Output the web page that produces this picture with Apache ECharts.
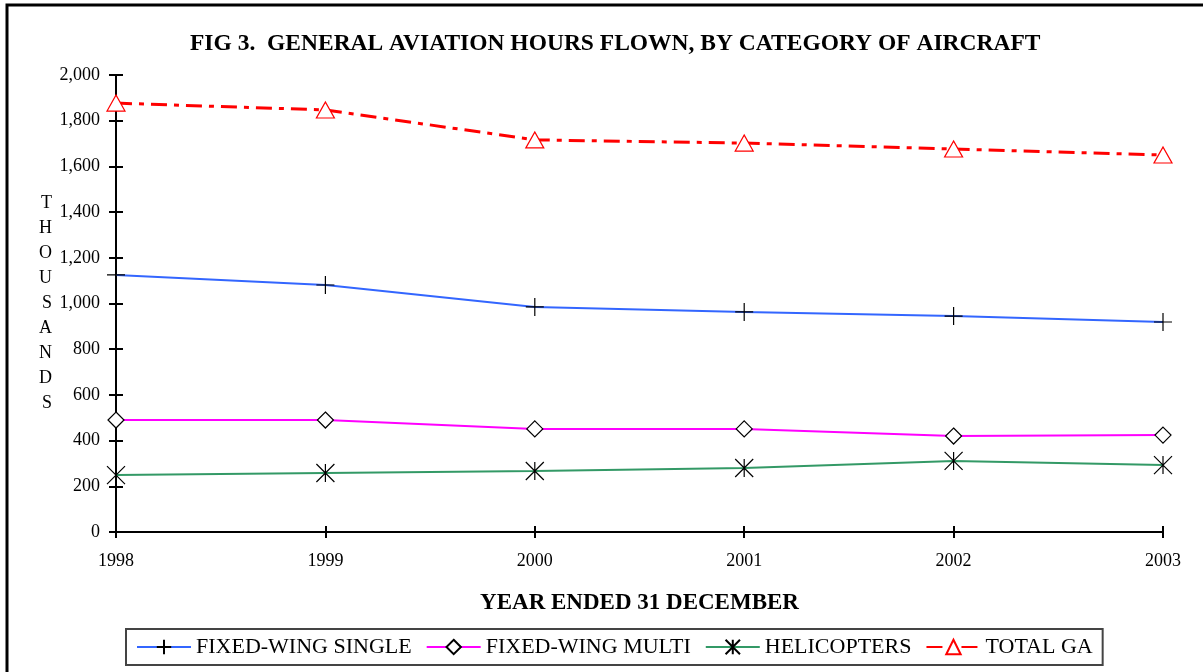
<!DOCTYPE html>
<html>
<head>
<meta charset="utf-8">
<script src="https://cdn.jsdelivr.net/npm/echarts@6/dist/echarts.min.js"></script>
<style>
  html, body { margin: 0; padding: 0; background: #fff; }
  #chart { width: 1203px; height: 672px; }
</style>
</head>
<body>
<div id="chart"></div>
<script>
// data (thousands of hours)
const years = ['1998', '1999', '2000', '2001', '2002', '2003']
const fixedWingSingle = [1125, 1081, 985, 963, 945, 919]
const fixedWingMulti = [490, 490, 451, 451, 420, 424]
const helicopters = [249, 258, 267, 280, 311, 293]
const totalGA = [1877, 1847, 1716, 1702, 1676, 1650]
const yTicks = { min: 0, max: 2000, interval: 200 }

const serif = '"Liberation Serif", "DejaVu Serif", serif'
const plusPath = 'path://M0,-10L0,10M-10,0L10,0'
const starPath = 'path://M-10,-10L10,10M-10,10L10,-10M0,-10L0,10'

const chart = echarts.init(document.getElementById('chart'))

chart.setOption({
  backgroundColor: '#fff',
  animation: false,
  title: {
    text: 'FIG 3.  GENERAL AVIATION HOURS FLOWN, BY CATEGORY OF AIRCRAFT',
    left: 185,
    top: 27,
    textStyle: {
      fontFamily: serif,
      fontWeight: 'bold',
      fontSize: 23.5,
      color: '#000'
    }
  },
  graphic: [{
    type: 'rect',
    shape: { x: 7, y: 5, width: 1210, height: 690 },
    style: { fill: 'none', stroke: '#000', lineWidth: 3 },
    silent: true
  }],
  grid: {
    left: 116,
    right: 40,
    top: 75,
    bottom: 140
  },
  legend: {
    bottom: 7,
    left: 126,
    padding: [7, 10, 7, 10],
    borderColor: '#444',
    borderWidth: 2,
    itemGap: 14,
    itemWidth: 54,
    itemHeight: 18,
    textStyle: {
      fontFamily: serif,
      fontSize: 22,
      color: '#000'
    },
    data: ['FIXED-WING SINGLE', 'FIXED-WING MULTI', 'HELICOPTERS', 'TOTAL GA']
  },
  xAxis: [{
    type: 'category',
    boundaryGap: false,
    data: years,
    name: 'YEAR ENDED 31 DECEMBER',
    nameLocation: 'middle',
    nameGap: 60,
    nameTextStyle: {
      fontFamily: serif,
      fontWeight: 'bold',
      fontSize: 23,
      color: '#000'
    },
    axisLine: { lineStyle: { color: '#000', width: 2 } },
    axisTick: { show: true, length: 6, lineStyle: { color: '#000', width: 2 } },
    axisLabel: {
      margin: 20,
      fontFamily: serif,
      fontSize: 18,
      color: '#000'
    },
    splitLine: { show: false }
  }, {
    // second axis only to get ticks crossing the line
    type: 'category',
    boundaryGap: false,
    data: years,
    position: 'bottom',
    axisLine: { show: false },
    axisTick: { show: true, inside: true, length: 6, lineStyle: { color: '#000', width: 2 } },
    axisLabel: { show: false },
    splitLine: { show: false }
  }],
  yAxis: [{
    type: 'value',
    min: yTicks.min,
    max: yTicks.max,
    interval: yTicks.interval,
    name: 'THOUSANDS'.split('').join('\n'),
    nameLocation: 'middle',
    nameRotate: 0,
    nameGap: 64,
    nameTextStyle: {
      fontFamily: serif,
      fontSize: 18,
      color: '#000',
      lineHeight: 25
    },
    axisLine: { show: true, lineStyle: { color: '#000', width: 2 } },
    axisTick: { show: true, length: 7, lineStyle: { color: '#000', width: 2 } },
    axisLabel: {
      margin: 16,
      fontFamily: serif,
      fontSize: 18,
      color: '#000',
      formatter(v) {
        return v.toLocaleString('en-US')
      }
    },
    splitLine: { show: false }
  }, {
    type: 'value',
    min: yTicks.min,
    max: yTicks.max,
    interval: yTicks.interval,
    position: 'left',
    axisLine: { show: false },
    axisTick: { show: true, inside: true, length: 7, lineStyle: { color: '#000', width: 2 } },
    axisLabel: { show: false },
    splitLine: { show: false }
  }],
  series: [{
    name: 'FIXED-WING SINGLE',
    type: 'line',
    data: fixedWingSingle,
    symbol: plusPath,
    symbolSize: 18,
    lineStyle: { color: '#3366ff', width: 2 },
    itemStyle: { color: '#3366ff', borderColor: '#000', borderWidth: 1.2 },
    z: 3
  }, {
    name: 'FIXED-WING MULTI',
    type: 'line',
    data: fixedWingMulti,
    symbol: 'diamond',
    symbolSize: 16,
    lineStyle: { color: '#ff00ff', width: 2 },
    itemStyle: { color: '#fff', borderColor: '#000', borderWidth: 1.2 },
    z: 3
  }, {
    name: 'HELICOPTERS',
    type: 'line',
    data: helicopters,
    symbol: starPath,
    symbolSize: 18,
    lineStyle: { color: '#339966', width: 2 },
    itemStyle: { color: '#339966', borderColor: '#000', borderWidth: 1.2 },
    z: 3
  }, {
    name: 'TOTAL GA',
    type: 'line',
    data: totalGA,
    symbol: 'triangle',
    symbolSize: [18, 16],
    lineStyle: { color: '#ff0000', width: 3, type: [16, 7, 5, 7] },
    itemStyle: { color: '#fff', borderColor: '#ff0000', borderWidth: 1.2 },
    z: 3
  }]
})
</script>
</body>
</html>
